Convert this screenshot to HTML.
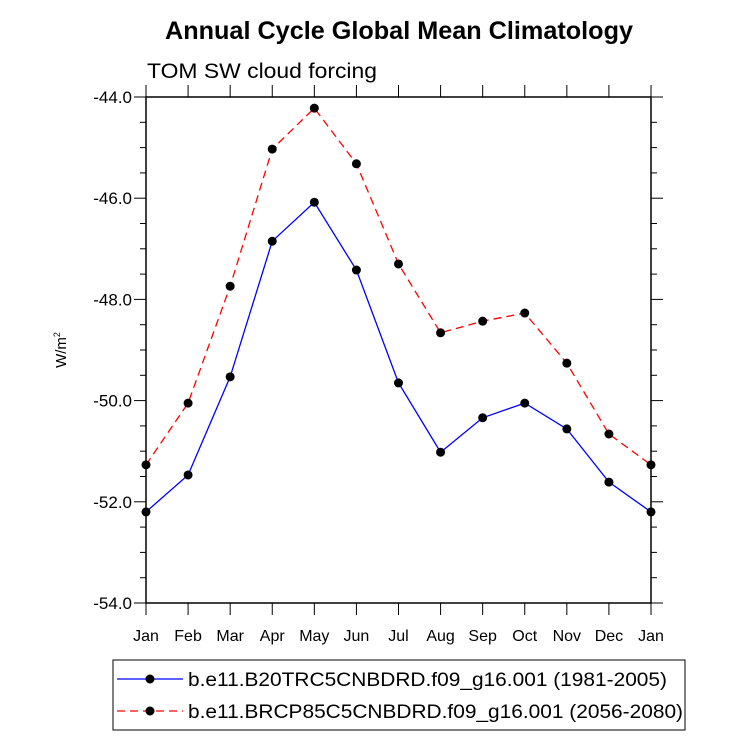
<!DOCTYPE html>
<html><head><meta charset="utf-8"><style>body{margin:0;background:#fff}svg{display:block;font-family:"Liberation Sans",sans-serif}</style></head>
<body>
<svg id="chart" width="733" height="748" viewBox="0 0 733 748">
<text x="165" y="39" font-size="25" font-weight="bold" textLength="468" lengthAdjust="spacingAndGlyphs">Annual Cycle Global Mean Climatology</text>
<text x="147" y="78" font-size="21" textLength="230" lengthAdjust="spacingAndGlyphs">TOM SW cloud forcing</text>
<text transform="translate(66,350) rotate(-90)" text-anchor="middle" font-size="15">W/m<tspan font-size="9" dy="-6">2</tspan></text>
<g id="axes"></g><g id="series"></g>
<g>
<rect x="113" y="660" width="572" height="70" fill="none" stroke="#000" stroke-width="1"/>
<line x1="117" y1="679" x2="183" y2="679" stroke="#00f" stroke-width="1.3"/><circle cx="150" cy="679" r="4.5"/>
<text x="188" y="686" font-size="19" textLength="479" lengthAdjust="spacingAndGlyphs">b.e11.B20TRC5CNBDRD.f09_g16.001 (1981-2005)</text>
<line x1="117" y1="711" x2="183" y2="711" stroke="#f00" stroke-width="1.3" stroke-dasharray="8,5"/><circle cx="150" cy="711" r="4.5"/>
<text x="188" y="718" font-size="19" textLength="495" lengthAdjust="spacingAndGlyphs">b.e11.BRCP85C5CNBDRD.f09_g16.001 (2056-2080)</text>
</g>
</svg>
<script>
const months=["Jan","Feb","Mar","Apr","May","Jun","Jul","Aug","Sep","Oct","Nov","Dec","Jan"];
const histValues=[-52.2,-51.47,-49.53,-46.85,-46.08,-47.42,-49.65,-51.02,-50.34,-50.05,-50.56,-51.61,-52.2];
const rcpValues=[-51.27,-50.05,-47.74,-45.03,-44.22,-45.32,-47.3,-48.66,-48.43,-48.27,-49.26,-50.66,-51.27];
const yTicks=[-44,-46,-48,-50,-52,-54];
const NS="http://www.w3.org/2000/svg";
const L=146,R=651,T=97,B=603,yMax=-44,yMin=-54;
const xs=i=>L+(R-L)*i/(months.length-1);
const ys=v=>T+(yMax-v)/(yMax-yMin)*(B-T);
function mk(tag,at,parent){const e=document.createElementNS(NS,tag);for(const k in at)e.setAttribute(k,at[k]);parent.appendChild(e);return e;}
const ax=document.getElementById('axes');
const frame=mk('rect',{x:L,y:T,width:R-L,height:B-T,fill:'none',stroke:'#000','stroke-width':1.5},ax);


months.forEach((m,i)=>{const x=xs(i);
mk('line',{x1:x,y1:B,x2:x,y2:B+12,stroke:'#000'},ax);
mk('line',{x1:x,y1:T,x2:x,y2:T-12,stroke:'#000'},ax);
const t=mk('text',{x:x,y:B+38,'text-anchor':'middle','font-size':16},ax);t.textContent=m;

});
for(let v=yMin;v<=yMax+1e-9;v+=0.5){const y=ys(v);const maj=Math.abs(v%2)<1e-9;const len=maj?12:6;
mk('line',{x1:L,y1:y,x2:L-len,y2:y,stroke:'#000'},ax);
mk('line',{x1:R,y1:y,x2:R+len,y2:y,stroke:'#000'},ax);}
yTicks.forEach(v=>{const t=mk('text',{x:L-14,y:ys(v)+6,'text-anchor':'end','font-size':17},ax);t.textContent=v.toFixed(1);

});
const sg=document.getElementById('series');
function draw(vals,color,dash,name){
const p=mk('polyline',{points:vals.map((v,i)=>xs(i)+','+ys(v)).join(' '),fill:'none',stroke:color,'stroke-width':1.3,'stroke-dasharray':dash},sg);


vals.forEach((v,i)=>{const c=mk('circle',{cx:xs(i),cy:ys(v),r:4.5,fill:'#000'},sg);

});}
draw(histValues,'#00f','none','historical');
draw(rcpValues,'#f00','8,5','rcp85');
</script>
</body></html>
